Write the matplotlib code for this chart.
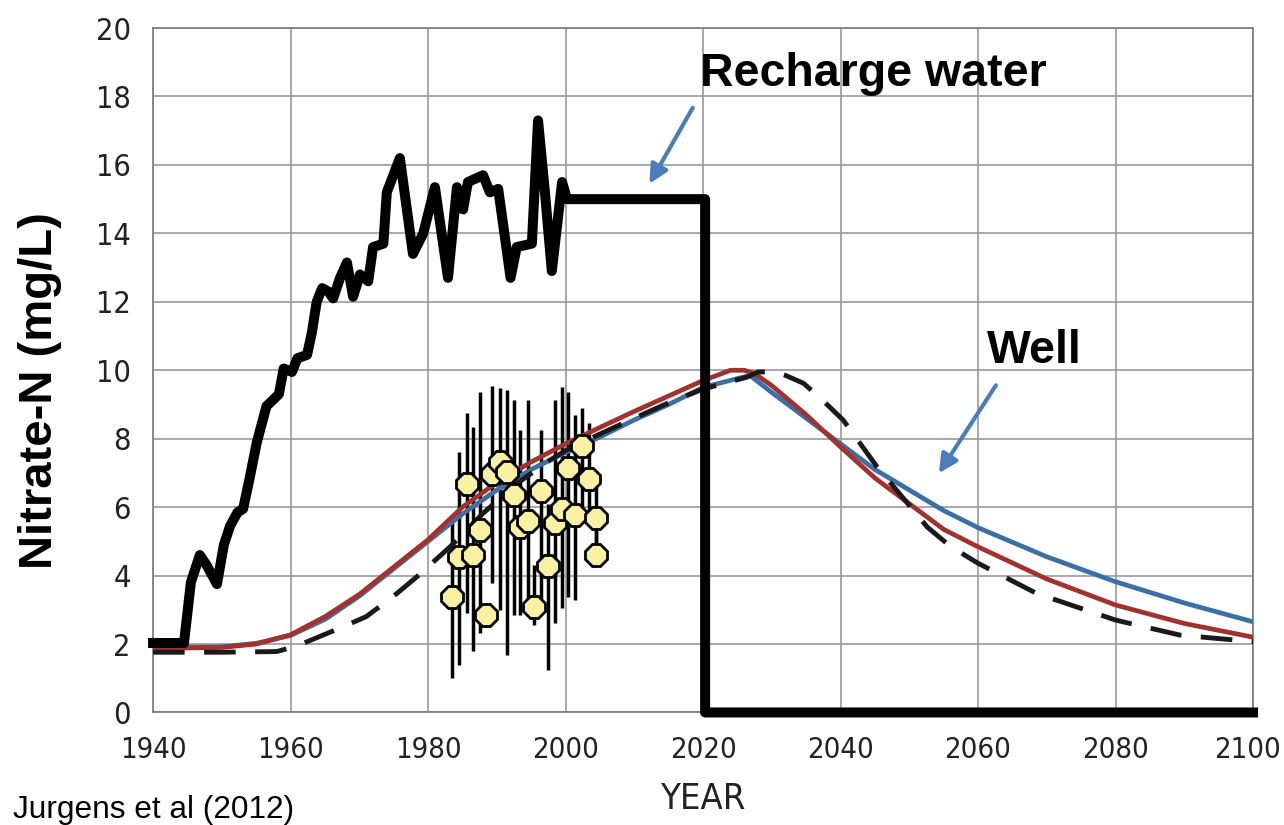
import matplotlib
matplotlib.use("Agg")
import matplotlib.pyplot as plt
import matplotlib.transforms as mtransforms
from matplotlib import font_manager
import numpy as np

# recharge water nitrate (black line)
rech_year = [1940, 1944.5, 1945.5, 1946.8, 1947.8, 1949.3, 1950.3, 1951.2, 1952.3, 1953.1,
             1954.0, 1955.1, 1956.5, 1958.3, 1959.0, 1960.2, 1961.0, 1962.4, 1963.1, 1963.8,
             1964.6, 1965.5, 1966.2, 1967.2, 1968.2, 1969.1, 1970.1, 1971.3, 1972.0, 1973.5,
             1974.0, 1975.9, 1977.8, 1979.3, 1981.0, 1982.9, 1984.2, 1985.1, 1985.8, 1988.0,
             1989.0, 1990.2, 1992.0, 1992.9, 1995.1, 1996.0, 1997.0, 1998.0, 1999.5, 2000.2,
             2020.3, 2020.3, 2100]
rech_no3 = [2.03, 2.03, 3.8, 4.6, 4.3, 3.75, 4.9, 5.45, 5.85, 5.95,
            6.8, 7.9, 8.95, 9.3, 10.05, 9.95, 10.35, 10.45, 11.1, 12.0,
            12.4, 12.3, 12.1, 12.7, 13.15, 12.15, 12.8, 12.6, 13.6, 13.7,
            15.2, 16.2, 13.4, 14.0, 15.35, 12.7, 15.35, 14.7, 15.5, 15.7,
            15.2, 15.3, 12.7, 13.6, 13.7, 17.3, 15.2, 12.9, 15.5, 15.0,
            15.0, 0.0, 0.0]

# simulated well concentrations
blue_year = [1940, 1950, 1955, 1960, 1965, 1970, 1975, 1980, 1985, 1990, 1995, 2000, 2005,
             2010, 2015, 2020, 2026.8, 2030, 2035, 2040, 2045, 2050, 2055, 2060, 2070, 2080,
             2090, 2100]
blue_no3 = [1.9, 1.92, 2.02, 2.25, 2.72, 3.4, 4.2, 5.0, 5.8, 6.5, 7.1, 7.6, 8.05,
            8.55, 9.0, 9.5, 9.85, 9.35, 8.6, 7.85, 7.1, 6.5, 5.9, 5.4, 4.55, 3.82,
            3.2, 2.65]

red_year = [1940, 1950, 1955, 1960, 1965, 1970, 1975, 1980, 1985, 1990, 1995, 2000, 2005,
            2010, 2015, 2020, 2024, 2026, 2027.5, 2030, 2035, 2040, 2045, 2050, 2055, 2060,
            2070, 2080, 2090, 2100]
red_no3 = [1.87, 1.9, 2.0, 2.27, 2.8, 3.45, 4.25, 5.05, 6.0, 6.72, 7.32, 7.85, 8.33,
           8.8, 9.25, 9.7, 10.0, 10.0, 9.9, 9.55, 8.7, 7.76, 6.85, 6.1, 5.35, 4.84,
           3.9, 3.14, 2.6, 2.2]

dash_year = [1940, 1950, 1958, 1961, 1964, 1967, 1971, 1975, 1978.4, 1983.2, 1988, 1993,
             1997.7, 2000, 2004.6, 2010, 2015, 2020, 2026.4, 2028, 2030.2, 2032, 2034.6,
             2037, 2040.4, 2045.3, 2050, 2052.6, 2056, 2060, 2068.5, 2080, 2089.4, 2100]
dash_no3 = [1.76, 1.76, 1.78, 1.95, 2.2, 2.45, 2.8, 3.4, 3.97, 4.84, 5.82, 6.7,
            7.37, 7.65, 8.1, 8.6, 9.05, 9.45, 9.8, 9.95, 9.95, 9.85, 9.62,
            9.2, 8.54, 7.18, 6.05, 5.42, 4.85, 4.36, 3.48, 2.7, 2.26, 2.07]

# measured well samples with ranges
obs_year = [1983.5, 1984.55, 1985.6, 1986.5, 1987.5, 1988.5, 1989.3, 1990.5, 1991.45, 1992.5,
            1993.4, 1994.5, 1995.4, 1996.4, 1997.5, 1998.5, 1999.45, 2000.4, 2001.4, 2002.45,
            2003.4, 2004.5, 2004.5]
obs_no3 = [3.38, 4.55, 6.69, 4.6, 5.33, 2.85, 6.98, 7.32, 7.03, 6.35,
           5.43, 5.6, 3.08, 6.48, 4.28, 5.53, 5.94, 7.14, 5.77, 7.78,
           6.82, 5.68, 4.6]
obs_lo = [1.0, 1.39, 2.91, 1.8, 2.31, 2.5, 3.78, 2.99, 1.68, 2.85,
          2.85, 2.85, 2.55, 3.2, 1.24, 2.61, 3.05, 3.38, 3.28, 5.72,
          5.72, 4.6, 4.6]
obs_hi = [5.77, 7.61, 8.75, 8.34, 9.37, 3.2, 9.55, 9.47, 9.42, 9.12,
          8.25, 9.12, 4.31, 8.25, 6.1, 9.12, 9.51, 9.37, 8.69, 8.89,
          8.45, 6.82, 5.68]

# condensed face for the axis numbers if one is installed
cond = font_manager.FontProperties(family='DejaVu Sans', stretch='condensed')
if 'Condensed' in font_manager.findfont(cond):
    tick_font = dict(family='DejaVu Sans', stretch='condensed')
else:
    tick_font = dict(family='DejaVu Sans')
bold = ['Liberation Sans', 'DejaVu Sans']

fig = plt.figure(figsize=(12.84, 8.25), dpi=100)
ax = fig.add_axes([0.1192, 0.1364, 0.8567, 0.8296])

ax.vlines(obs_year, obs_lo, obs_hi, color='black', lw=2.5, zorder=2)
ax.plot(blue_year, blue_no3, color='#3b6fa6', lw=3.4, zorder=3)
ax.plot(red_year, red_no3, color='#a3322f', lw=3.4, zorder=3)
ax.plot(dash_year, dash_no3, color='#1a1a1a', lw=3.5, dashes=(6.5, 4), zorder=3)
ax.plot(obs_year, obs_no3, linestyle='none', marker='8', markersize=16.5,
        markerfacecolor='#f7f1a1', markeredgecolor='black', markeredgewidth=2, zorder=4)
ax.plot(rech_year, rech_no3, color='black', lw=7.2, solid_joinstyle='round',
        clip_on=False, zorder=5)

ax.set_xlim(1940, 2100)
ax.set_ylim(0, 20)
ax.set_xticks(np.arange(1940, 2101, 20))
ax.set_yticks(np.arange(0, 21, 2))
ax.grid(True, color='#9a9a9a', lw=1.2)
ax.set_axisbelow(True)
ax.tick_params(length=0, labelcolor='#222222')
ax.tick_params(axis='x', pad=17)
ax.tick_params(axis='y', pad=16)
xlabs = ax.get_xticklabels()
for lab in xlabs:
    lab.set(size=21, **tick_font)
for lab in ax.get_yticklabels():
    lab.set(size=22, **tick_font)
# keep the last year label inside the canvas
xlabs[-1].set_transform(xlabs[-1].get_transform() +
                        mtransforms.ScaledTranslation(-6 / 100, 0, fig.dpi_scale_trans))
for sp in ax.spines.values():
    sp.set_color('#7a7a7a')
    sp.set_linewidth(1.2)

ax.text(2019.6, 18.32, 'Recharge water', fontsize=33.5, fontweight='bold',
        family=bold, ha='left', va='baseline')
ax.text(2061.3, 10.2, 'Well', fontsize=33.5, fontweight='bold',
        family=bold, ha='left', va='baseline')

arrow = dict(arrowstyle='-|>', color='#4a7ebb', lw=3, mutation_scale=28,
             shrinkA=0, shrinkB=0)
ax.annotate('', xy=(2012.2, 15.45), xytext=(2018.5, 17.67), arrowprops=arrow)
ax.annotate('', xy=(2054.3, 6.99), xytext=(2062.6, 9.56), arrowprops=arrow)

fig.text(0.031, 0.527, 'Nitrate-N (mg/L)', rotation=90, fontsize=34, fontweight='bold',
         family=bold, ha='center', va='center')
fig.text(0.5475, 0.019, 'YEAR', color='#222222', ha='center', va='baseline',
         size=26, **tick_font)
fig.text(0.010, 0.009, 'Jurgens et al (2012)', fontsize=22.8, family=bold,
         ha='left', va='baseline')

fig.savefig('out.png', dpi=100)
